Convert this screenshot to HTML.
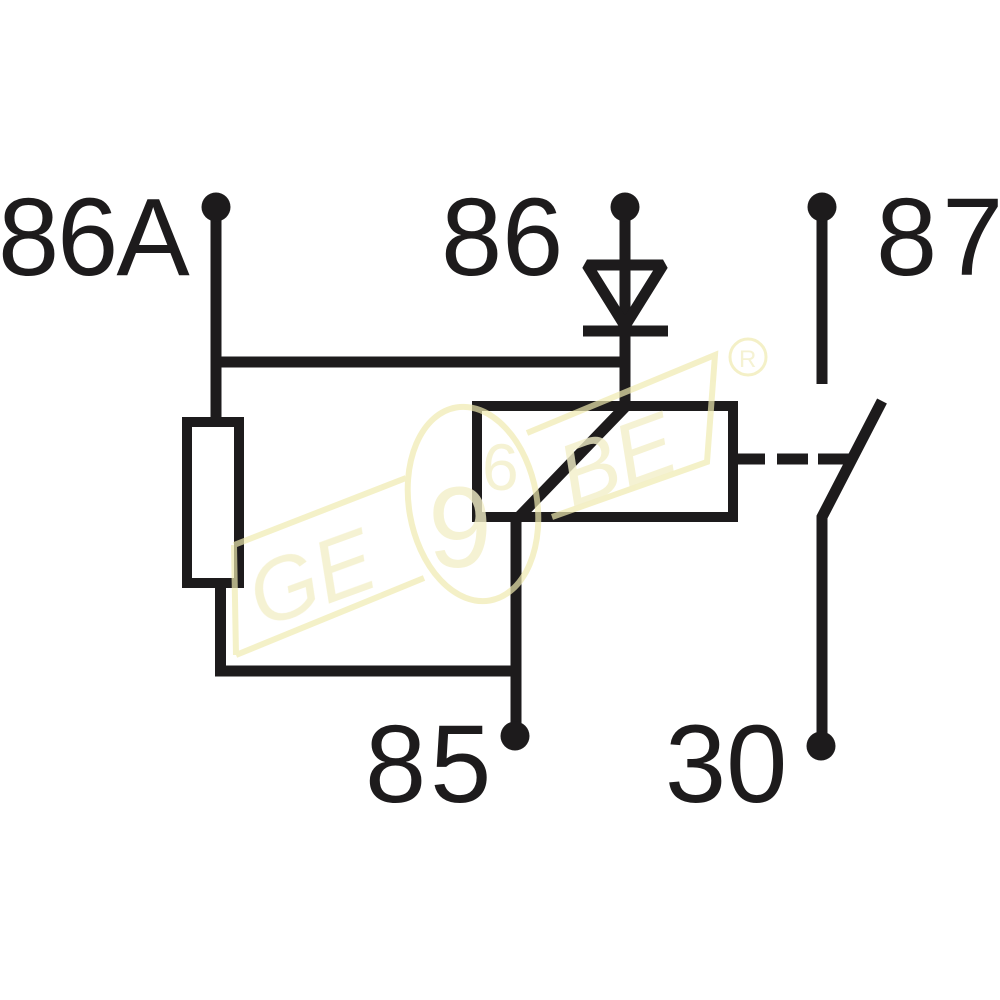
<!DOCTYPE html>
<html><head><meta charset="utf-8"><style>
html,body{margin:0;padding:0;background:#fff}
svg{display:block}
text{font-family:"Liberation Sans",sans-serif}
</style></head><body>
<svg width="1000" height="1000" viewBox="0 0 1000 1000" xmlns="http://www.w3.org/2000/svg">
<rect width="1000" height="1000" fill="#fff"/>
<g fill="#1d1b1c" font-size="110">
<text x="-2" y="275" letter-spacing="-2">86A</text>
<text x="441" y="275">86</text>
<text x="876" y="275" letter-spacing="5">87</text>
<text x="365" y="802" letter-spacing="4">85</text>
<text x="665" y="802">30</text>
</g>
<g fill="none" stroke="#1d1b1c" stroke-width="11">
<path d="M216 207V422"/>
<path d="M216 362H625"/>
<path d="M625 207V406"/>
<path d="M587 265H663L625 326Z" stroke-width="11" stroke-linejoin="bevel"/>
<path d="M583 331H668"/>
<rect x="187" y="422" width="52" height="161" stroke-width="10"/>
<path d="M220.500 583V671H516"/>
<rect x="477" y="406" width="256" height="111" stroke-width="10"/>
<path d="M627 405L516 520V736"/>
<path d="M822 207V384"/>
<path d="M822 746V517L882 401"/>
<path d="M738 459H765M777 459H808M818 459H850"/>
</g>
<g fill="#1d1b1c">
<circle cx="216" cy="207" r="14.500"/>
<circle cx="625" cy="207" r="14.500"/>
<circle cx="822" cy="207" r="14.500"/>
<circle cx="515" cy="736" r="14.500"/>
<circle cx="821" cy="746" r="14.500"/>
</g>
<g fill="none" stroke="#f0ebb0" stroke-width="6" opacity="0.7">
<path d="M234 545L406 478M236 655L424 578M234 545L236 655"/>
<path d="M527 433L715 355L707 462L552 517"/>
<ellipse cx="473" cy="504" rx="64" ry="98" transform="rotate(-10 473 504)"/>
<circle cx="748" cy="357" r="18" stroke-width="3"/>
</g>
<g fill="#f3efc8" opacity="0.8" font-style="italic">
<text transform="translate(262 628) rotate(-20)" font-size="88">GE</text>
<text transform="translate(572 508) rotate(-20)" font-size="88">BE</text>
<text x="428" y="567" font-size="115" font-style="normal">9</text>
<text x="482" y="490" font-size="66" font-style="normal">6</text>
<text x="739" y="367" font-size="24" font-style="normal">R</text>
</g>
</svg>
</body></html>
